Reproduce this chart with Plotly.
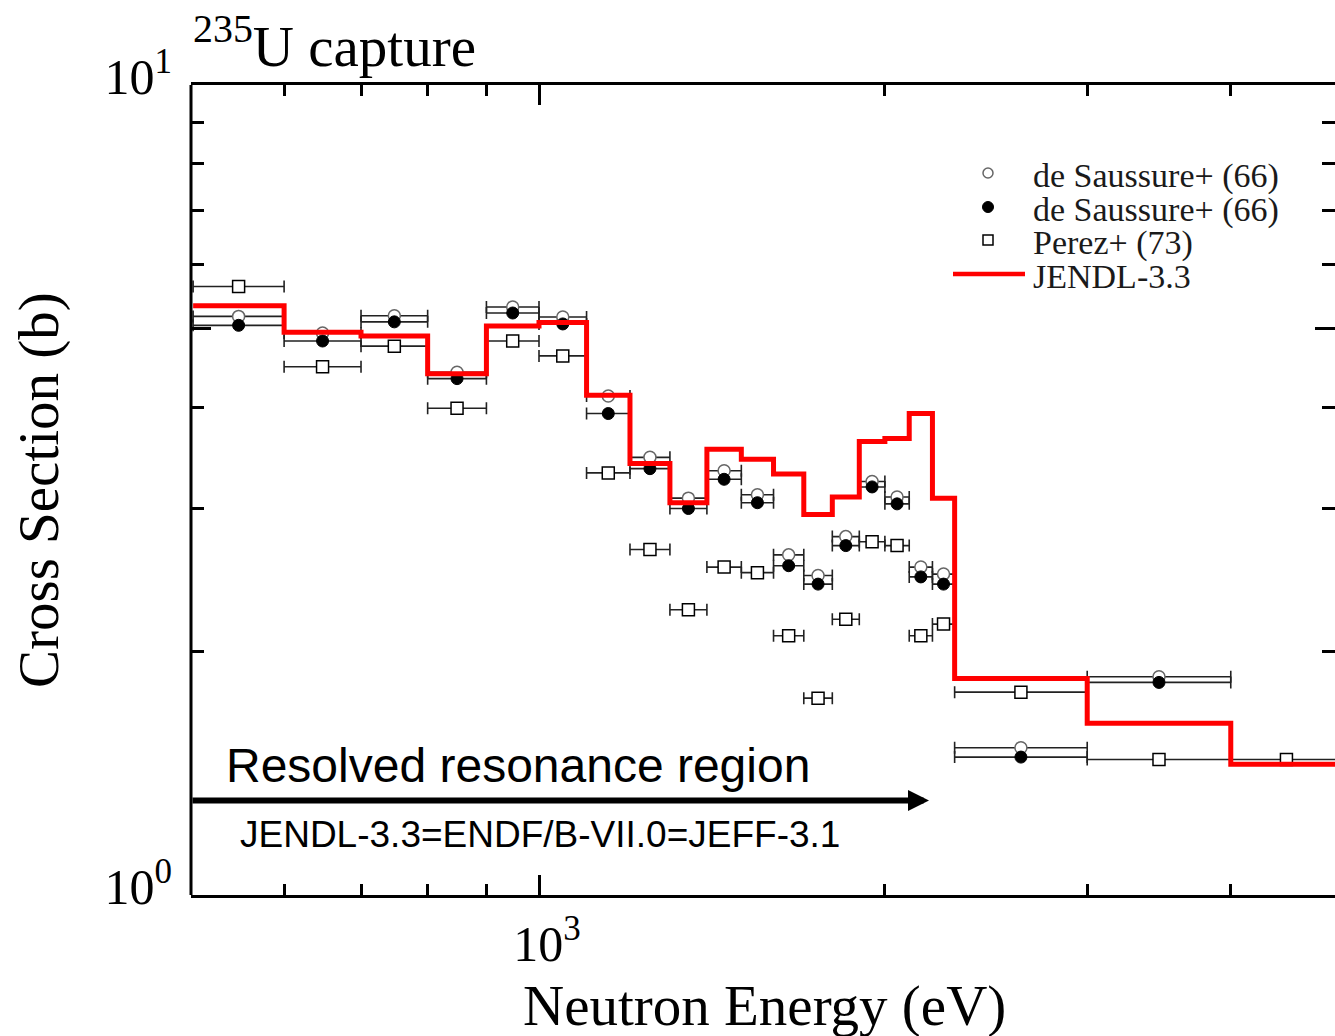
import numpy as np
import plotly.graph_objects as go

# Energy group boundaries (eV)
edges = [500, 600, 700, 800, 900, 1000, 1100, 1200, 1300, 1400, 1500, 1600,
         1700, 1800, 1900, 2000, 2100, 2200, 2300, 3000, 4000, 5000]

# JENDL-3.3 group-averaged capture cross section (b), one value per group
jendl33 = [5.34, 4.95, 4.90, 4.40, 5.04, 5.09, 4.14, 3.41, 3.05, 3.55, 3.45,
           3.31, 2.95, 3.10, 3.63, 3.66, 3.93, 3.09, 1.85, 1.63, 1.45]

# de Saussure et al. (1966), two data sets, groups 500 eV - 4 keV
saussure_open = [5.18, 4.94, 5.19, 4.42, 5.32, 5.17, 4.13, 3.47, 3.09, 3.34,
                 3.12, 2.63, 2.48, 2.77, 3.24, 3.10, 2.54, 2.49, 1.52, 1.86]
saussure_filled = [5.05, 4.83, 5.10, 4.34, 5.23, 5.07, 3.93, 3.36, 3.00, 3.26,
                   3.05, 2.55, 2.42, 2.70, 3.19, 3.04, 2.47, 2.42, 1.48, 1.83]

# Perez et al. (1973), groups 500 eV - 5 keV
perez = [5.64, 4.49, 4.76, 3.99, 4.83, 4.63, 3.32, 2.67, 2.25, 2.54, 2.50,
         2.09, 1.75, 2.19, 2.73, 2.70, 2.09, 2.16, 1.78, 1.47, 1.47]

legend_labels = ["de Saussure+ (66)", "de Saussure+ (66)", "Perez+ (73)", "JENDL-3.3"]

SERIF = "Liberation Serif"
SANS = "Liberation Sans"

W, H = 1335, 1036
ML, MR, MT, MB = 191, 0, 85, 141
PW, PH = W - ML - MR, H - MT - MB


def px_x(px):
    return (px - ML) / PW


def px_y(py):
    return (H - MB - py) / PH


def groups(values):
    lo = np.array(edges[:len(values)], dtype=float)
    hi = np.array(edges[1:len(values) + 1], dtype=float)
    mid = np.sqrt(lo * hi)
    return mid, hi - mid, mid - lo


def err(plus, minus):
    return dict(type="data", symmetric=False, array=plus, arrayminus=minus,
                color="#222", thickness=1.6, width=6)


fig = go.Figure()

m, p, q = groups(saussure_open)
fig.add_trace(go.Scatter(x=m, y=saussure_open, mode="markers", error_x=err(p, q),
                         marker=dict(symbol="circle", size=12, color="white",
                                     line=dict(color="#666", width=1.5)),
                         name=legend_labels[0], showlegend=False))

m, p, q = groups(saussure_filled)
fig.add_trace(go.Scatter(x=m, y=saussure_filled, mode="markers", error_x=err(p, q),
                         marker=dict(symbol="circle", size=12, color="black",
                                     line=dict(color="black", width=1)),
                         name=legend_labels[1], showlegend=False))

m, p, q = groups(perez)
fig.add_trace(go.Scatter(x=m, y=perez, mode="markers", error_x=err(p, q),
                         marker=dict(symbol="square", size=12, color="white",
                                     line=dict(color="black", width=1.5)),
                         name=legend_labels[2], showlegend=False))

fig.add_trace(go.Scatter(x=edges, y=jendl33 + [jendl33[-1]], mode="lines",
                         line=dict(color="#ff0000", width=5, shape="hv"),
                         name=legend_labels[3], showlegend=False))

x_lo = 3 - (539 - ML) / 1149.0
x_hi = x_lo + PW / 1149.0

fig.update_xaxes(type="log", range=[x_lo, x_hi],
                 showline=True, linewidth=3, linecolor="black", mirror="ticks",
                 ticks="inside", ticklen=20, tickwidth=2.5, tickcolor="black",
                 tickmode="array", tickvals=[1000], ticktext=["10<sup>3</sup>"],
                 tickfont=dict(family=SERIF, size=50, color="black"),
                 ticklabelstandoff=3, ticklabelshift=8,
                 minor=dict(tickmode="array", tickvals=[600, 700, 800, 900, 2000, 3000, 4000],
                            ticks="inside", ticklen=11, tickwidth=2.5, tickcolor="black",
                            showgrid=False),
                 showgrid=False, zeroline=False)

fig.update_yaxes(type="log", range=[0, 1],
                 showline=False, mirror="ticks",
                 ticks="inside", ticklen=20, tickwidth=2.5, tickcolor="black",
                 tickmode="array", tickvals=[1, 5, 10],
                 ticktext=["10<sup>0</sup>", "", "10<sup>1</sup>"],
                 tickfont=dict(family=SERIF, size=50, color="black"),
                 ticklabelstandoff=18, ticklabelshift=-9,
                 minor=dict(tickmode="array", tickvals=[2, 3, 4, 6, 7, 8, 9],
                            ticks="inside", ticklen=13, tickwidth=2.5, tickcolor="black",
                            showgrid=False),
                 showgrid=False, zeroline=False)

shapes = [
    # left frame edge
    dict(type="line", xref="paper", yref="paper", x0=0, x1=0, y0=0, y1=1,
         line=dict(color="black", width=3)),
    # legend symbols
    dict(type="circle", xref="paper", yref="paper", xsizemode="pixel", ysizemode="pixel",
         xanchor=px_x(988), yanchor=px_y(173), x0=-5, x1=5, y0=-5, y1=5,
         fillcolor="white", line=dict(color="#666", width=1.5)),
    dict(type="circle", xref="paper", yref="paper", xsizemode="pixel", ysizemode="pixel",
         xanchor=px_x(988), yanchor=px_y(207), x0=-5.5, x1=5.5, y0=-5.5, y1=5.5,
         fillcolor="black", line=dict(color="black", width=1)),
    dict(type="rect", xref="paper", yref="paper", xsizemode="pixel", ysizemode="pixel",
         xanchor=px_x(988), yanchor=px_y(240), x0=-5, x1=5, y0=-5, y1=5,
         fillcolor="white", line=dict(color="black", width=1.5)),
    dict(type="line", xref="paper", yref="paper", x0=px_x(953), x1=px_x(1025),
         y0=px_y(274), y1=px_y(274), line=dict(color="#ff0000", width=4.5)),
]

annotations = [
    dict(text="<sup>235</sup>U capture", xref="paper", yref="paper",
         x=px_x(191), y=px_y(80), xanchor="left", yanchor="bottom", showarrow=False,
         font=dict(family=SERIF, size=57, color="black")),
    dict(text="Cross Section (b)", xref="paper", yref="paper", textangle=-90,
         x=px_x(39), y=px_y(490), xanchor="center", yanchor="middle", showarrow=False,
         font=dict(family=SERIF, size=57, color="black")),
    dict(text="Neutron Energy (eV)", xref="paper", yref="paper",
         x=px_x(764), y=px_y(1006), xanchor="center", yanchor="middle", showarrow=False,
         font=dict(family=SERIF, size=57, color="black")),
    dict(text="Resolved resonance region", xref="paper", yref="paper",
         x=px_x(224), y=px_y(765), xanchor="left", yanchor="middle", showarrow=False,
         font=dict(family=SANS, size=48, color="black")),
    dict(text="JENDL-3.3=ENDF/B-VII.0=JEFF-3.1", xref="paper", yref="paper",
         x=px_x(238), y=px_y(834), xanchor="left", yanchor="middle", showarrow=False,
         font=dict(family=SANS, size=37, color="black")),
    # resolved-resonance-region arrow
    dict(text="", xref="x", yref="paper", axref="x", ayref="pixel",
         x=np.log10(2185), y=px_y(800.5), ax=x_lo, ay=0,
         showarrow=True, arrowhead=2, arrowsize=0.7, arrowwidth=6, arrowcolor="black",
         standoff=0, startstandoff=0),
]

legend_y = [176, 210, 243, 276]
for label, yy in zip(legend_labels, legend_y):
    annotations.append(dict(text=label, xref="paper", yref="paper",
                            x=px_x(1031), y=px_y(yy), xanchor="left", yanchor="middle",
                            showarrow=False,
                            font=dict(family=SERIF, size=34, color="#1a1a1a")))

fig.update_layout(width=W, height=H,
                  margin=dict(l=ML, r=MR, t=MT, b=MB, pad=0),
                  paper_bgcolor="white", plot_bgcolor="white",
                  showlegend=False, shapes=shapes, annotations=annotations)

fig.write_html("out.html")
